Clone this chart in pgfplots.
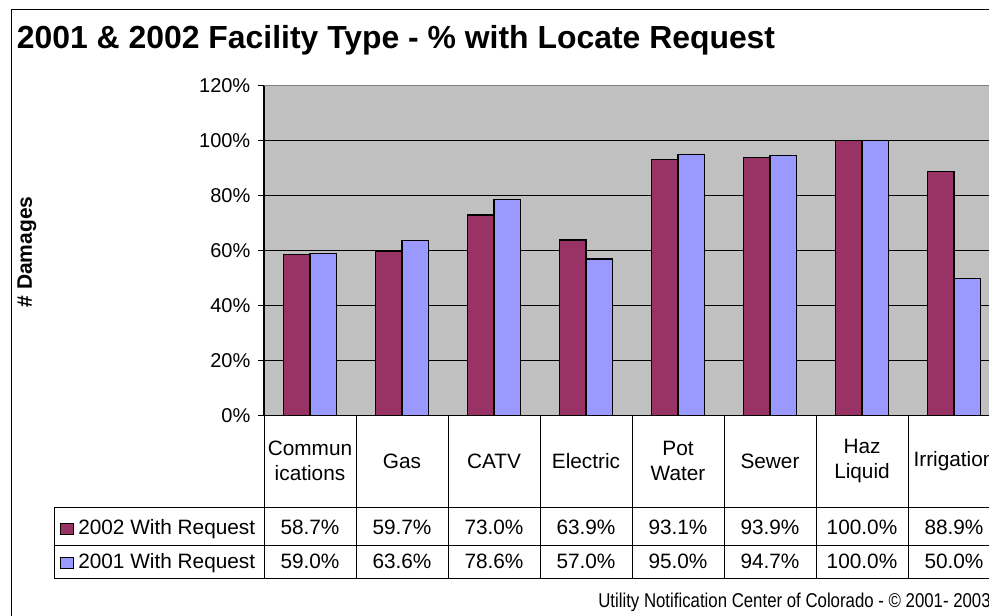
\documentclass[border=0pt]{standalone}
\usepackage{pgfplots}
\pgfplotsset{compat=1.18}
\usepackage{fontspec}
\setmainfont{Liberation Sans}
\newfontfamily\narrowfont[FakeStretch=0.84]{Liberation Sans}
\newlength\px \setlength\px{0.75pt}
\definecolor{bgray}{HTML}{C0C0C0}
\definecolor{c2002}{HTML}{993366}
\definecolor{c2001}{HTML}{9999FF}
\begin{document}
\begin{tikzpicture}
\path[use as bounding box] (0,0) rectangle (989\px,-615\px);
% outer border
\draw[black, line width=1\px] (11\px,-700\px) -- (11\px,-9\px) -- (1100\px,-9\px);
% title
\node[anchor=base west, inner sep=0, font=\fontsize{31.9\px}{38\px}\selectfont\bfseries] at (16.7\px,-48.3\px) {2001 \& 2002 Facility Type - \% with Locate Request};
% y label
\node[rotate=90, inner sep=0, font=\fontsize{21\px}{25\px}\selectfont\bfseries] at (27\px,-252\px) {\# Damages};
\begin{axis}[
  at={(264\px,-415.7\px)}, anchor=south west,
  scale only axis, x=92\px, y=2.75\px,
  xmin=0, xmax=8, ymin=0, ymax=120,
  axis background/.style={fill=bgray},
  axis x line*=bottom, axis y line*=left,
  axis line style={black, line width=1.2\px},
  xtick=\empty,
  ytick={0,20,40,60,80,100,120},
  yticklabels={0\%,20\%,40\%,60\%,80\%,100\%,120\%},
  yticklabel style={font=\fontsize{20\px}{24\px}\selectfont, xshift=-3\px},
  tick align=outside, major tick length=6\px,
  tick style={black, line width=1\px},
  ymajorgrids, grid style={black, line width=1\px},
  ybar,
]
\addplot[fill=c2002, draw=black, line width=1.2\px, bar width=26.3\px, bar shift=-13.15\px]
  coordinates {(0.5,58.7) (1.5,59.7) (2.5,73.0) (3.5,63.9) (4.5,93.1) (5.5,93.9) (6.5,100.0) (7.5,88.9)};
\addplot[fill=c2001, draw=black, line width=1.2\px, bar width=26.3\px, bar shift=13.15\px]
  coordinates {(0.5,59.0) (1.5,63.6) (2.5,78.6) (3.5,57.0) (4.5,95.0) (5.5,94.7) (6.5,100.0) (7.5,50.0)};
\draw[gray, line width=1.2\px] (axis cs:0,120) -- (axis cs:8,120);
\end{axis}
% data table
\foreach \k in {0,...,8} {
  \draw[black, line width=1\px] ({(264+92*\k)*0.75pt},-415.7\px) -- ({(264+92*\k)*0.75pt},-578.3\px);
}
\draw[black, line width=1\px] (54.3\px,-507.7\px) -- (1100\px,-507.7\px);
\draw[black, line width=1\px] (54.3\px,-545\px) -- (1100\px,-545\px);
\draw[black, line width=1\px] (54.3\px,-578.3\px) -- (1100\px,-578.3\px);
\draw[black, line width=1\px] (54.3\px,-507.7\px) -- (54.3\px,-578.3\px);
\begin{scope}[every node/.style={font=\fontsize{20.8\px}{25\px}\selectfont, inner sep=0, align=center}]
\node at (310\px,-461\px) {Commun\\ications};
\node at (402\px,-461\px) {Gas};
\node at (494\px,-461\px) {CATV};
\node at (586\px,-461\px) {Electric};
\node at (678\px,-461\px) {Pot\\Water};
\node at (770\px,-461\px) {Sewer};
\node at (862\px,-461\px) {Haz\\Liquid};
\node at (954\px,-461\px) {Irrigation};
% legend keys
\draw[fill=c2002, draw=black, line width=1\px] (60.7\px,-523\px) rectangle (73.3\px,-534.7\px);
\draw[fill=c2001, draw=black, line width=1\px] (60.7\px,-557\px) rectangle (73.3\px,-568.7\px);
\node[anchor=base west] at (78\px,-534\px) {2002 With Request};
\node[anchor=base west] at (78\px,-568\px) {2001 With Request};
% values
\foreach \v [count=\i from 0] in {58.7,59.7,73.0,63.9,93.1,93.9,100.0,88.9} {
  \node[anchor=base] at ({(310+92*\i)*0.75pt},-534\px) {\v\%};
}
\foreach \v [count=\i from 0] in {59.0,63.6,78.6,57.0,95.0,94.7,100.0,50.0} {
  \node[anchor=base] at ({(310+92*\i)*0.75pt},-568\px) {\v\%};
}
\end{scope}
% footnote
\node[anchor=base east, inner sep=0, font=\narrowfont\fontsize{20\px}{24\px}\selectfont] at (991\px,-607\px) {Utility Notification Center of Colorado - © 2001- 2003};
\end{tikzpicture}
\end{document}
